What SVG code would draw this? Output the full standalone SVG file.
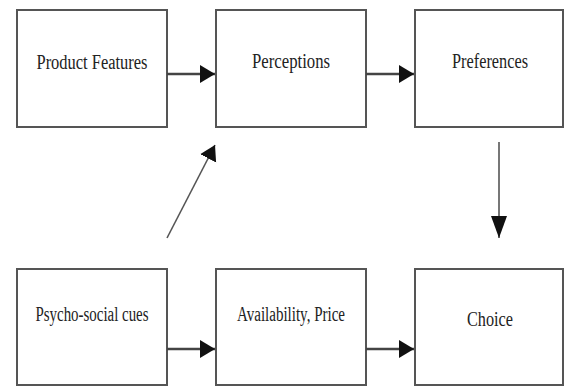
<svg xmlns="http://www.w3.org/2000/svg" width="565" height="388" viewBox="0 0 565 388">
<style>
.box{fill:#fff;stroke:#555;stroke-width:2}
.lbl{font-family:"Liberation Serif","Times New Roman",serif;font-size:20px;fill:#222;text-anchor:middle}
.thick{stroke:#444;stroke-width:2.6;fill:none}
.thin{stroke:#555;stroke-width:1.6;fill:none}
</style>
<defs>
<marker id="ah" markerUnits="userSpaceOnUse" markerWidth="18" markerHeight="20" refX="15" refY="9" orient="auto">
<path d="M0,0 L15,9 L0,18 Z" fill="#111"/>
</marker>
<marker id="ahl" markerUnits="userSpaceOnUse" markerWidth="24" markerHeight="18" refX="22" refY="8" orient="auto">
<path d="M0,0 L22,8 L0,16 Z" fill="#111"/>
</marker>
</defs>
<rect width="565" height="388" fill="#fff"/>
<g id="n1"><rect class="box" x="17" y="10" width="150" height="117"/><text class="lbl" x="92" y="69" textLength="111" lengthAdjust="spacingAndGlyphs">Product Features</text></g>
<g id="n2"><rect class="box" x="216" y="10" width="150" height="117"/><text class="lbl" x="291" y="68" textLength="78" lengthAdjust="spacingAndGlyphs">Perceptions</text></g>
<g id="n3"><rect class="box" x="415" y="10" width="148" height="117"/><text class="lbl" x="490" y="68" textLength="76" lengthAdjust="spacingAndGlyphs">Preferences</text></g>
<g id="n4"><rect class="box" x="17" y="269" width="150" height="116"/><text class="lbl" x="92" y="321" textLength="113" lengthAdjust="spacingAndGlyphs">Psycho-social cues</text></g>
<g id="n5"><rect class="box" x="216" y="269" width="150" height="116"/><text class="lbl" x="291" y="321" textLength="108" lengthAdjust="spacingAndGlyphs">Availability, Price</text></g>
<g id="n6"><rect class="box" x="415" y="269" width="148" height="116"/><text class="lbl" x="490" y="326" textLength="46" lengthAdjust="spacingAndGlyphs">Choice</text></g>
<g id="connectors">
<line class="thick" x1="167" y1="74" x2="215" y2="74" marker-end="url(#ah)"/>
<line class="thick" x1="366" y1="74" x2="414" y2="74" marker-end="url(#ah)"/>
<line class="thick" x1="167" y1="349" x2="215" y2="349" marker-end="url(#ah)"/>
<line class="thick" x1="366" y1="349" x2="414" y2="349" marker-end="url(#ah)"/>
<line class="thin" x1="167" y1="238" x2="215" y2="145" marker-end="url(#ah)"/>
<line class="thin" x1="499" y1="142" x2="499" y2="238" marker-end="url(#ahl)"/>
</g>
</svg>
